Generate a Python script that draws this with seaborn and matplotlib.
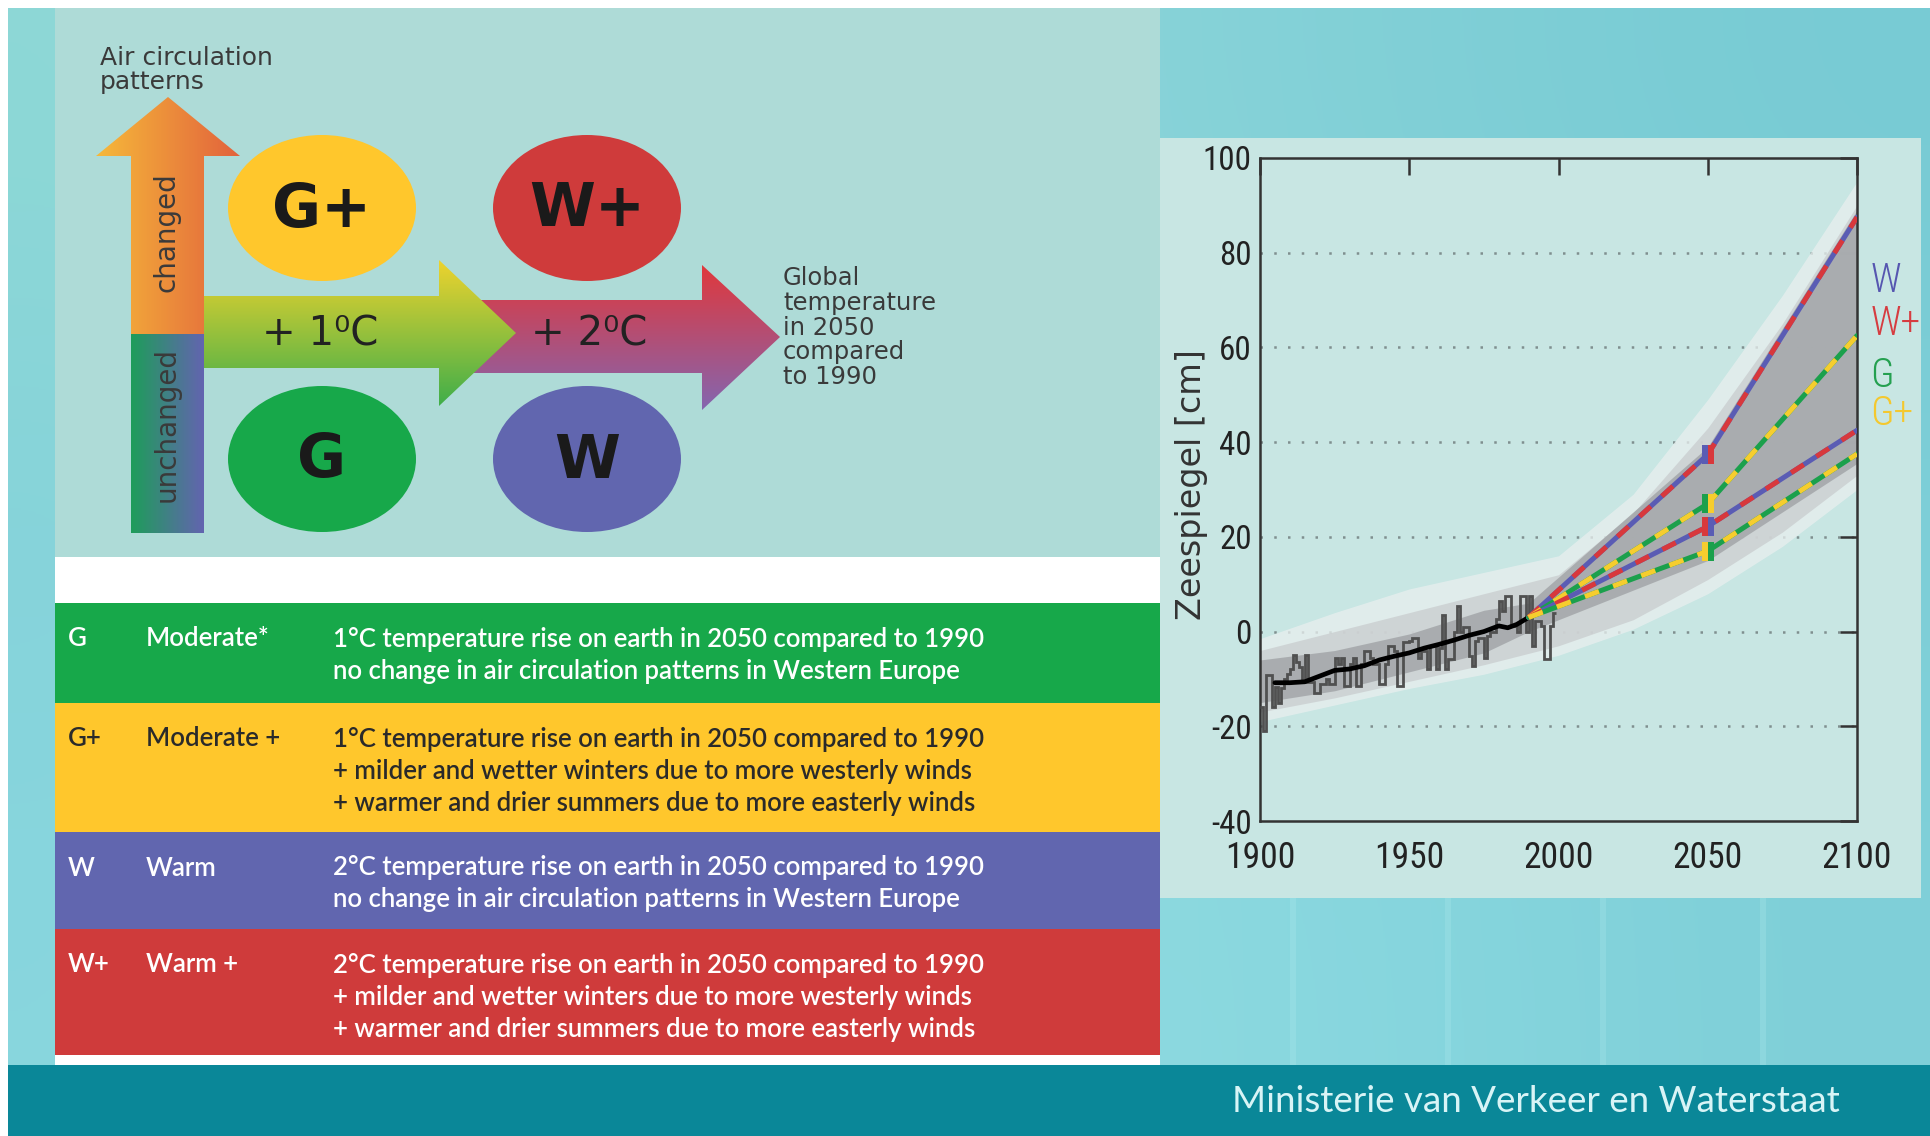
import numpy as np
import matplotlib
matplotlib.use('Agg')
import matplotlib.pyplot as plt
import seaborn as sns
from matplotlib import font_manager
from matplotlib.patches import Polygon, Ellipse, Rectangle
from matplotlib.colors import LinearSegmentedColormap

# ---------------- data ----------------
# observed yearly sea level (cm), 1900..1998
obs_years = list(range(1900, 1999))
obs_level = [-16, -21, -9.2, -9.2, -16, -11.7, -15, -12, -10, -9,
             -8, -5, -6.5, -7.5, -10.7, -5, -10.7, -10.7, -13, -13,
             -11, -11, -10, -11, -11, -5.5, -6.8, -5.5, -11.4, -11.4,
             -6.8, -5.5, -11.4, -11.4, -6.8, -4, -4, -5.5, -6.8, -6.8,
             -11, -11, -6.8, -3, -3, -4, -11.4, -11.4, -2.3, -2.3,
             -2, -1.3, -1.3, -5.5, -4, -4, -7.9, -3, -3, -7.9,
             -3.5, 3.4, -7.9, -5.8, -5.8, 0, 5.4, 0, 1, 1,
             -5.1, -7.2, -2, -1.3, -1.3, -5.5, -1, 0, 0, 2.6,
             6.4, 4.3, 7.5, 7.5, 1.2, 1.2, 0, 7.5, 7.5, 0,
             7.5, -3, 2.3, 2.3, 1.2, -5.8, -5.8, 1.2, 4]

# smoothed trend
trend_years = [1905, 1910, 1915, 1920, 1925, 1930, 1935, 1940, 1945, 1950,
               1955, 1960, 1965, 1970, 1975, 1980, 1983, 1986, 1990]
trend_level = [-10.8, -10.8, -10.6, -9.4, -8.2, -7.9, -7.2, -6.0, -5.2, -4.5,
               -3.5, -2.7, -1.8, -0.8, 0.0, 1.2, 0.8, 1.5, 3.0]

# scenario projections
scen_years = [1990, 2050, 2100]
w_high = [3, 37.4, 87.5]
g_high = [3, 27.0, 62.5]
w_low = [3, 22.2, 42.5]
g_low = [3, 17.0, 37.5]

# uncertainty bands
band_years = [1900, 1925, 1950, 1975, 2000, 2025, 2050, 2075, 2100]
outer_lo = [-19, -15.5, -12, -9, -5, 0.5, 8, 18, 30]
outer_hi = [-1.5, 4, 9, 12.5, 16, 29, 49, 71, 95]
mid_lo = [-17, -14, -10.5, -7, -3, 2.5, 11, 21, 33]
mid_hi = [-4, 0, 4, 8, 12, 25, 43, 65, 90]
inner_years = [1900, 1925, 1950, 1975, 1990, 2050, 2100]
inner_lo = [-15, -12.5, -8.5, -4.5, 0, 15, 35.5]
inner_hi = [-6, -4, -0.5, 4.5, 6, 39, 89]

# scenario table
scen_codes = ['G', 'G+', 'W', 'W+']
scen_names = ['Moderate*', 'Moderate +', 'Warm', 'Warm +']
scen_desc = [
    ['1°C temperature rise on earth in 2050 compared to 1990',
     'no change in air circulation patterns in Western Europe'],
    ['1°C temperature rise on earth in 2050 compared to 1990',
     '+ milder and wetter winters due to more westerly winds',
     '+ warmer and drier summers due to more easterly winds'],
    ['2°C temperature rise on earth in 2050 compared to 1990',
     'no change in air circulation patterns in Western Europe'],
    ['2°C temperature rise on earth in 2050 compared to 1990',
     '+ milder and wetter winters due to more westerly winds',
     '+ warmer and drier summers due to more easterly winds'],
]
scen_colors = ['#17A84A', '#FFC72C', '#6166AF', '#CF3B3B']
scen_text_colors = ['white', '#2A2A2A', 'white', 'white']

GREEN, YELLOW, BLUE, RED = '#1BA04C', '#F6CD2E', '#5A5CB4', '#D8383C'

# ---------------- fonts ----------------
sns.set_theme(style='white')
ttf = font_manager.fontManager.ttflist
names = {f.name for f in ttf}
if 'Liberation Sans Narrow' in names:
    narrow = dict(family='Liberation Sans Narrow')
    nsc = 1.0
elif 'Roboto Condensed' in names:
    narrow = dict(family='Roboto Condensed')
    nsc = 0.95
elif any(f.name == 'DejaVu Sans' and f.stretch in ('condensed', 'semi-condensed') for f in ttf):
    narrow = dict(family='DejaVu Sans', stretch='condensed')
    nsc = 0.85
else:
    narrow = dict(family='Liberation Sans')
    nsc = 0.82
lato = 'Lato' if 'Lato' in names else 'DejaVu Sans'
plt.rcParams['font.family'] = ['DejaVu Sans']
plt.rcParams['axes.unicode_minus'] = False

W_PX, H_PX = 1931, 1136
fig = plt.figure(figsize=(W_PX / 100, H_PX / 100), dpi=100)
fig.patch.set_facecolor('white')

# full-figure canvas in pixel coordinates for the poster layout
deco = fig.add_axes([0, 0, 1, 1])
deco.set_zorder(0)
deco.axis('off')


def grad_poly(pts, c1, c2, direction, z=2):
    poly = Polygon(pts, closed=True, facecolor='none', edgecolor='none')
    deco.add_patch(poly)
    xs = [p[0] for p in pts]
    ys = [p[1] for p in pts]
    cmap = LinearSegmentedColormap.from_list('g', [c1, c2])
    if direction == 'h':
        arr = np.linspace(0, 1, 256).reshape(1, -1)
    else:
        arr = np.linspace(0, 1, 256).reshape(-1, 1)
    im = deco.imshow(arr, cmap=cmap, extent=(min(xs), max(xs), max(ys), min(ys)),
                     aspect='auto', interpolation='bilinear', zorder=z)
    im.set_clip_path(poly)


# watery background
bg_cols = [['#8DD8D6', '#97DCDA', '#8FD7DA', '#88D3D8', '#7FCFD6', '#78CBD4'],
           ['#84D2DA', '#8FD8DC', '#96DCDC', '#8CD7DC', '#84D3DA', '#7ECFD8'],
           ['#88D6DE', '#8FDBDF', '#97DFDE', '#8CD9E0', '#86D6DE', '#7FCFD8']]
bg_rgb = np.array([[matplotlib.colors.to_rgb(c) for c in row] for row in bg_cols])
deco.imshow(bg_rgb, extent=(8, W_PX, 1065, 8), aspect='auto',
            interpolation='bicubic', zorder=0)
for sx in [1290, 1445, 1600, 1760]:
    deco.add_patch(Rectangle((sx, 898), 6, 167, color='#B4ECEE', alpha=0.25, lw=0, zorder=0.5))

# footer
deco.add_patch(Rectangle((8, 1065), W_PX - 8, 80, color='#0A8798', lw=0, zorder=1))
deco.text(1536, 1102, 'Ministerie van Verkeer en Waterstaat', fontsize=26.5,
          family=lato, color='#D8F4F6', ha='center', va='center', zorder=3)

# left diagram panel
deco.add_patch(Rectangle((55, 8), 1105, 549, color='#AEDBD7', lw=0, zorder=1))
deco.add_patch(Rectangle((55, 557), 1105, 508, color='white', lw=0, zorder=1))

deco.text(100, 46, 'Air circulation\npatterns', fontsize=18, color='#3A3A3A',
          ha='left', va='top', linespacing=1.0, zorder=3)

# vertical arrow
grad_poly([(131, 334), (131, 156), (96, 156), (168, 97), (240, 156), (204, 156), (204, 334)],
          '#F6B93A', '#E2623C', 'h')
grad_poly([(131, 334), (131, 533), (204, 533), (204, 334)], '#1E9D5A', '#6364B0', 'h')
deco.text(167, 232, 'changed', rotation=90, fontsize=20, color='#3A3A3A',
          ha='center', va='center', zorder=3)
deco.text(167, 425, 'unchanged', rotation=90, fontsize=20, color='#3A3A3A',
          ha='center', va='center', zorder=3)

# horizontal arrows
grad_poly([(474, 300), (702, 300), (702, 265), (780, 337), (702, 410), (702, 373), (474, 373)],
          '#E0383C', '#8466B0', 'v')
grad_poly([(204, 296), (439, 296), (439, 260), (516, 333), (439, 406), (439, 368), (204, 368)],
          '#EED32E', '#3FAE4A', 'v', z=2.5)
deco.text(320, 334, '+ 1⁰C', fontsize=29, color='#222222', ha='center', va='center', zorder=3)
deco.text(589, 334, '+ 2⁰C', fontsize=29, color='#222222', ha='center', va='center', zorder=3)
deco.text(783, 266, 'Global\ntemperature\nin 2050\ncompared\nto 1990', fontsize=17.5,
          color='#3A3A3A', ha='left', va='top', linespacing=1.04, zorder=3)

# scenario ellipses
for (cx, cy), col, lab in zip([(322, 208), (587, 208), (322, 459), (587, 459)],
                              [scen_colors[1], scen_colors[3], scen_colors[0], scen_colors[2]],
                              ['G+', 'W+', 'G', 'W']):
    deco.add_patch(Ellipse((cx, cy), 188, 146, color=col, lw=0, zorder=2))
    deco.text(cx, cy + 2, lab, fontsize=43, weight='bold', color='#1A1A1A',
              ha='center', va='center', zorder=3)

# scenario table
row_tops = [603, 703, 832, 929]
row_bottoms = [703, 832, 929, 1055]
for i in range(4):
    deco.add_patch(Rectangle((55, row_tops[i]), 1105, row_bottoms[i] - row_tops[i],
                             color=scen_colors[i], lw=0, zorder=1.5))
    y0 = row_tops[i] + 36
    tc = scen_text_colors[i]
    kw = dict(fontsize=18.5, family=lato, weight='semibold', color=tc, va='center', zorder=3)
    deco.text(68, y0, scen_codes[i], **kw)
    deco.text(146, y0, scen_names[i], **kw)
    for j, line in enumerate(scen_desc[i]):
        deco.text(333, y0 + 32 * j, line, **kw)

# chart panel
deco.add_patch(Rectangle((1160, 138), 761, 760, color='#C8E6E3', lw=0, zorder=1))

deco.set_xlim(0, W_PX)
deco.set_ylim(H_PX, 0)

# ---------------- sea level chart ----------------
ax = fig.add_axes([1260 / W_PX, 1 - 821 / H_PX, 597 / W_PX, 663 / H_PX])
ax.set_zorder(3)
ax.set_facecolor('#C8E6E3')

for gy in [-20, 0, 20, 40, 60, 80]:
    ax.axhline(gy, color='#7F8F8F', lw=1.8, linestyle=(0, (1, 4.5)), zorder=0.5)

ax.fill_between(band_years, outer_lo, outer_hi, color='#E9EFEF', alpha=0.75, lw=0, zorder=1)
ax.fill_between(band_years, mid_lo, mid_hi, color='#C9CCCE', alpha=0.75, lw=0, zorder=1.2)
ax.fill_between(inner_years, inner_lo, inner_hi, color='#A3A6A9', alpha=0.85, lw=0, zorder=1.4)

ax.stairs(obs_level, np.arange(1900, 2000), baseline=None, color='#505050', lw=2, zorder=3)
sns.lineplot(x=trend_years, y=trend_level, color='black', lw=3.4, ax=ax, zorder=4)

for ys, c1, c2 in [(w_high, BLUE, RED), (g_high, GREEN, YELLOW),
                   (w_low, BLUE, RED), (g_low, GREEN, YELLOW)]:
    sns.lineplot(x=scen_years, y=ys, color=c1, lw=3.6, ax=ax, zorder=5)
    ax.plot(scen_years, ys, color=c2, lw=3.6, linestyle=(0, (3, 3)), zorder=5.1)

# 2050 markers
for v, cl, cr in [(w_high[1], BLUE, RED), (g_high[1], GREEN, YELLOW),
                  (w_low[1], RED, BLUE), (g_low[1], YELLOW, GREEN)]:
    ax.bar(2049, 4, bottom=v - 2, width=2, color=cl, lw=0, zorder=6)
    ax.bar(2051, 4, bottom=v - 2, width=2, color=cr, lw=0, zorder=6)

for lab, yv, col in [('W', 74, '#5656B0'), ('W+', 65, '#D63C40'),
                     ('G', 54, '#24A050'), ('G+', 46, '#F4C82E')]:
    ax.text(2104.5, yv, lab, color=col, fontsize=30 * nsc, weight='light', ha='left',
            va='center', clip_on=False, **narrow)

ax.set_xlim(1900, 2100)
ax.set_ylim(-40, 100)
ax.set_xticks([1900, 1950, 2000, 2050, 2100])
ax.set_yticks([-40, -20, 0, 20, 40, 60, 80, 100])
ax.tick_params(direction='in', length=12, width=1.8, color='#333333',
               top=True, right=True, labelsize=25 * nsc, labelcolor='#222222')
ax.tick_params(axis='x', pad=14, labelsize=27 * nsc)
ax.tick_params(axis='y', pad=6)
for lab in ax.get_xticklabels() + ax.get_yticklabels():
    lab.set_family(narrow['family'])
    if 'stretch' in narrow:
        lab.set_stretch(narrow['stretch'])
for s in ax.spines.values():
    s.set_color('#333333')
    s.set_linewidth(1.8)
ax.set_xlabel('')
ax.set_ylabel('')
ax.grid(False)

fig.text(1192 / W_PX, 1 - 485 / H_PX, 'Zeespiegel [cm]', rotation=90, fontsize=24,
         color='#333333', ha='center', va='center')

fig.savefig('out.png', dpi=100)
